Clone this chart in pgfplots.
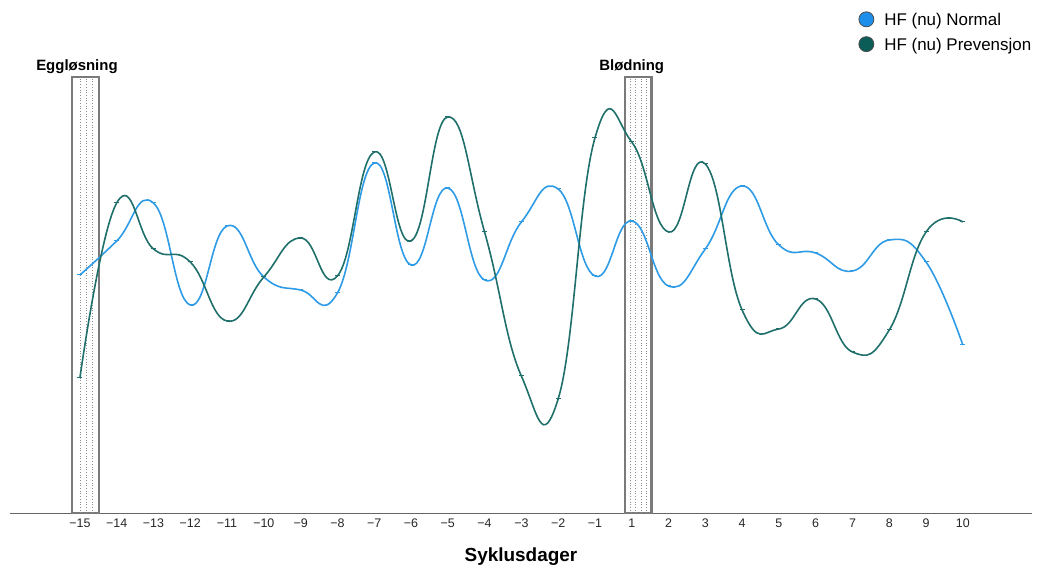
\documentclass[border=0pt]{standalone}
\usepackage{pgfplots}
\pgfplotsset{compat=1.18}
\usepackage{pgfplotstable}
\usepackage{fontspec}
\setmainfont{Liberation Sans}
\definecolor{nblue}{HTML}{2E9BE6}
\definecolor{pteal}{HTML}{1F6F6B}
\definecolor{lblue}{HTML}{1E8FEB}
\definecolor{lteal}{HTML}{0B5D58}

\pgfplotstableread{
x y
0 238
1 272
2 310
3 208
4 287
5 236
6 223
7 220
8 350
9 248
10 325
11 233
12 291
13 324
14 237
15 292
16 227
17 264
18 327
19 268
20 260
21 242
22 273
23 251
24 168
}\normaldata

\pgfplotstableread{
x y
0 135
1 310
2 264
3 251
4 192
5 236
6 275
7 237
8 361
9 272
10 396
11 281
12 137
13 114
14 375
15 371
16 281
17 349
18 203
19 184
20 214
21 161
22 183
23 281
24 291
}\prevdata

\begin{document}
\begin{tikzpicture}
\begin{axis}[
  at={(10bp,61bp)}, anchor=south west,
  scale only axis, width=1022bp, height=513bp,
  xmin=-1.9, xmax=25.88, ymin=0, ymax=513,
  axis x line=bottom, axis y line=none,
  axis line style={-, draw=black!60, line width=1bp},
  xtick={0,...,24},
  xticklabels={−15,−14,−13,−12,−11,−10,−9,−8,−7,−6,−5,−4,−3,−2,−1,1,2,3,4,5,6,7,8,9,10},
  major tick length=0,
  xticklabel style={font=\fontsize{12.5}{14}\selectfont, color=black!85, inner sep=0pt, anchor=north, yshift=-6bp},
  xlabel={Syklusdager},
  xlabel style={font=\fontsize{19}{22}\selectfont\bfseries, at={(axis description cs:0.5,0)}, anchor=north, inner sep=0pt, yshift=-35bp},
  legend style={at={(rel axis cs:0.827,0.982)}, anchor=north west, draw=none, fill=none,
    font=\fontsize{17}{20}\selectfont, row sep=7bp},
  legend cell align=left,
  clip=false,
]
% marked periods
\draw[black!52, line width=2.3bp] (axis cs:-0.22,0) rectangle (axis cs:0.52,436);
\draw[black!45, dotted, line width=0.7bp] (axis cs:0.0,0) -- (axis cs:0.0,436);
\draw[black!45, dotted, line width=0.7bp] (axis cs:0.18,0) -- (axis cs:0.18,436);
\draw[black!45, dotted, line width=0.7bp] (axis cs:0.35,0) -- (axis cs:0.35,436);
\draw[black!52, line width=2.3bp] (axis cs:14.81,0) rectangle (axis cs:15.54,436);
\draw[black!45, dotted, line width=0.7bp] (axis cs:14.95,0) -- (axis cs:14.95,436);
\draw[black!45, dotted, line width=0.7bp] (axis cs:15.1,0) -- (axis cs:15.1,436);
\draw[black!45, dotted, line width=0.7bp] (axis cs:15.25,0) -- (axis cs:15.25,436);
\draw[black!45, dotted, line width=0.7bp] (axis cs:15.41,0) -- (axis cs:15.41,436);
\node[font=\fontsize{15}{18}\selectfont\bfseries, anchor=base, inner sep=0pt] at (axis cs:-0.08,442) {Eggløsning};
\node[font=\fontsize{15}{18}\selectfont\bfseries, anchor=base, inner sep=0pt] at (axis cs:15.0,442) {Blødning};

\addplot[nblue, line width=1.6bp, smooth, tension=0.8, mark=-, mark size=2.5bp,
  mark options={line width=1bp, solid},
  legend image code/.code={\path[draw=none, fill=none] (0,0) rectangle (24bp,0.1bp); \draw[fill=lblue, draw=black!70, line width=0.8bp] (8bp,0.2ex) circle (7.5bp);}]
  table[x=x, y=y] {\normaldata};
\addlegendentry{HF (nu) Normal}
\addplot[pteal, line width=1.6bp, smooth, tension=0.8, mark=-, mark size=2.5bp,
  mark options={line width=1bp, solid},
  legend image code/.code={\path[draw=none, fill=none] (0,0) rectangle (24bp,0.1bp); \draw[fill=lteal, draw=black!70, line width=0.8bp] (8bp,0.2ex) circle (7.5bp);}]
  table[x=x, y=y] {\prevdata};
\addlegendentry{HF (nu) Prevensjon}
\end{axis}
\pgfresetboundingbox
\path (0,0) rectangle (1038bp,574bp);
\end{tikzpicture}
\end{document}
